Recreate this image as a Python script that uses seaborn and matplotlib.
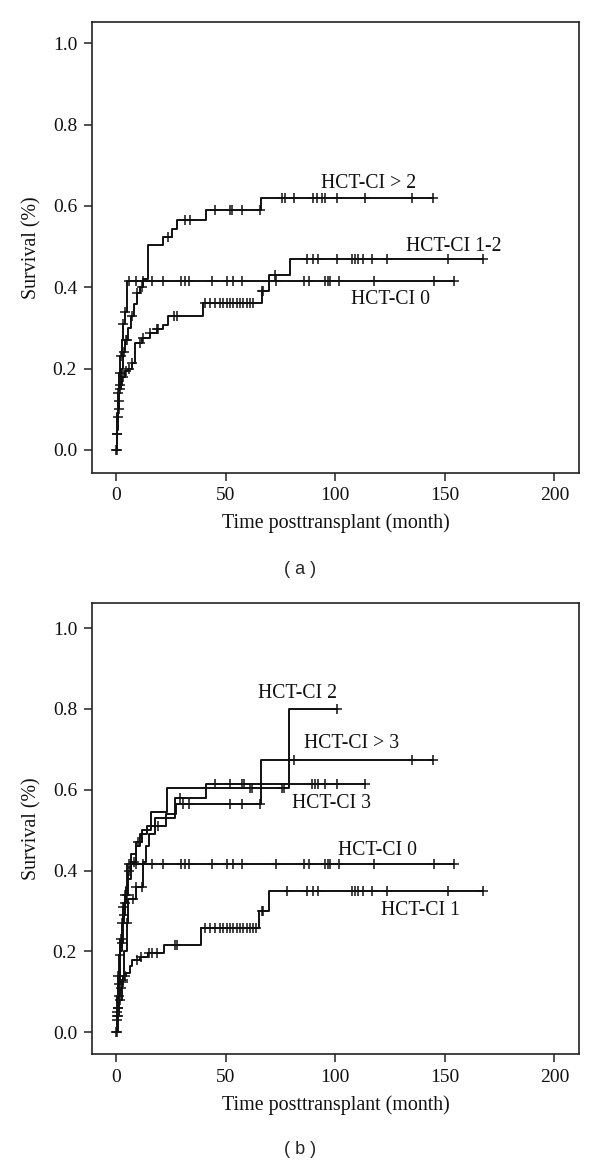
import numpy as np
import pandas as pd
import matplotlib
matplotlib.use("Agg")
import matplotlib.pyplot as plt
import seaborn as sns

# ---------------- data ----------------
# panel (a)
hct0_t = [0, 0.3, 0.6, 1.0, 1.5, 2.0, 2.5, 3.2, 4.0, 4.9]
hct0_s = [0.0, 0.04, 0.09, 0.14, 0.19, 0.23, 0.27, 0.31, 0.34, 0.416]
hct0_end = 154.2
hct0_cens = [0.2, 0.5, 1.0, 1.6, 2.4, 3.3, 4.0, 6.1, 9.1, 12.2, 16.3, 21.6, 29.7, 31.5,
             33.5, 44.0, 50.5, 53.5, 57.3, 72.9, 85.8, 88.2, 95.4, 96.6, 97.6, 101.9,
             117.7, 145.1, 154.2]

a12_t = [0, 0.3, 0.6, 1.0, 1.5, 2.6, 4.1, 5.6, 7.1, 8.7, 11.7, 15.5, 18.6, 21.6, 23.9,
         39.9, 66.5, 70.0, 79.4]
a12_s = [0.0, 0.04, 0.08, 0.12, 0.16, 0.18, 0.193, 0.20, 0.213, 0.262, 0.275, 0.287,
         0.297, 0.307, 0.33, 0.361, 0.392, 0.430, 0.470]
a12_end = 167.3
a12_cens = [0.3, 0.8, 1.3, 2.0, 3.0, 4.5, 6.0, 7.5, 11.0, 12.5, 15.5, 18.6, 19.3, 26.5,
            28.0, 40.6, 42.9, 45.2, 47.5, 49.0, 50.5, 52.0, 53.5, 55.1, 56.6, 58.1,
            59.6, 61.1, 62.7, 66.5, 67.2, 72.6, 87.0, 90.0, 92.3, 100.7, 107.5, 109.0,
            110.6, 112.9, 116.7, 123.5, 151.3, 167.3]

agt2_t = [0, 0.5, 1.0, 1.5, 2.2, 3.0, 4.0, 5.5, 6.7, 8.0, 9.4, 11.0, 12.5, 14.8, 21.6,
          25.4, 27.7, 41.1, 66.2]
agt2_s = [0.0, 0.05, 0.10, 0.15, 0.20, 0.24, 0.27, 0.30, 0.33, 0.36, 0.385, 0.40, 0.42,
          0.504, 0.523, 0.543, 0.566, 0.589, 0.620]
agt2_end = 144.5
agt2_cens = [0.4, 1.2, 2.0, 3.5, 4.5, 5.0, 7.5, 9.5, 12.0, 23.9, 31.5, 33.8, 45.2, 52.0,
             52.8, 57.3, 65.7, 75.6, 77.1, 81.4, 90.0, 91.6, 93.8, 95.4, 100.7, 113.6,
             134.9, 144.5]

# panel (b)
b1_t = [0, 0.3, 0.7, 1.2, 1.8, 2.5, 3.3, 4.6, 6.4, 7.1, 11.0, 14.7, 22.0, 39.0, 65.4, 70.0]
b1_s = [0.0, 0.03, 0.06, 0.09, 0.11, 0.125, 0.138, 0.146, 0.163, 0.179, 0.187, 0.196,
        0.216, 0.259, 0.299, 0.35]
b1_end = 167.3
b1_cens = [0.5, 1.0, 1.5, 2.2, 3.0, 4.0, 9.4, 11.3, 15.2, 16.3, 18.6, 26.9, 27.7, 40.6,
           42.9, 45.2, 47.5, 49.0, 50.5, 52.0, 53.5, 55.1, 56.6, 58.1, 59.6, 61.1, 62.7,
           63.8, 66.4, 67.2, 77.9, 87.0, 90.0, 92.3, 107.5, 109.0, 110.6, 112.9, 116.7,
           123.5, 151.3, 167.3]

b2_t = [0, 0.5, 1.0, 1.8, 2.6, 3.5, 4.5, 5.5, 7.0, 9.0, 12.0, 16.0, 23.2, 79.1]
b2_s = [0.0, 0.05, 0.12, 0.20, 0.27, 0.32, 0.36, 0.40, 0.44, 0.47, 0.50, 0.546, 0.604, 0.80]
b2_end = 100.7
b2_cens = [0.6, 1.5, 2.8, 4.0, 6.0, 10.0, 61.1, 61.9, 75.6, 76.7, 100.7]

b3_t = [0, 0.5, 1.2, 2.0, 3.0, 4.2, 5.5, 7.0, 9.0, 11.0, 14.0, 18.0, 26.9, 41.1]
b3_s = [0.0, 0.06, 0.14, 0.22, 0.29, 0.34, 0.38, 0.42, 0.46, 0.49, 0.51, 0.53, 0.579, 0.614]
b3_end = 113.6
b3_cens = [0.3, 1.0, 2.5, 3.5, 5.0, 8.0, 29.0, 45.2, 52.0, 57.3, 58.4, 89.3, 90.8, 92.3,
           95.4, 100.7, 113.6]

bgt3_t = [0, 0.7, 1.5, 2.5, 3.5, 4.8, 5.5, 9.0, 12.5, 13.5, 15.0, 18.0, 23.0, 27.4, 66.2]
bgt3_s = [0.0, 0.04, 0.08, 0.13, 0.20, 0.27, 0.33, 0.36, 0.42, 0.46, 0.49, 0.51, 0.54,
          0.565, 0.674]
bgt3_end = 144.5
bgt3_cens = [1.0, 2.0, 3.0, 5.0, 7.9, 9.1, 12.0, 19.0, 30.7, 33.5, 52.0, 57.3, 65.7,
             81.4, 134.9, 144.5]

# label text and positions (month, survival)
a_labels = [("HCT-CI > 2", 115.4, 0.656), ("HCT-CI 1-2", 154.0, 0.500), ("HCT-CI 0", 125.2, 0.371)]
b_labels = [("HCT-CI 2", 82.7, 0.837), ("HCT-CI > 3", 107.7, 0.715), ("HCT-CI 3", 98.5, 0.565),
            ("HCT-CI 0", 119.1, 0.449), ("HCT-CI 1", 138.9, 0.301)]

# ---------------- style ----------------
sns.set_style("ticks")
plt.rcParams["font.family"] = ["Liberation Serif", "DejaVu Serif"]
plt.rcParams["axes.linewidth"] = 1.2
plt.rcParams["xtick.major.size"] = 6
plt.rcParams["ytick.major.size"] = 6
plt.rcParams["xtick.major.pad"] = 4.5
plt.rcParams["ytick.major.pad"] = 4.5

W, H = 600, 1167


def step_frame(t, s, end):
    tt = list(t) + [end]
    ss = list(s) + [s[-1]]
    return pd.DataFrame({"t": tt, "s": ss})


def cens_frame(t, s, cens):
    idx = np.searchsorted(np.asarray(t), np.asarray(cens), side="right") - 1
    return pd.DataFrame({"t": cens, "s": np.asarray(s)[idx]})


def draw_panel(ax, curves, labels, ylim):
    for t, s, end, cens in curves:
        sns.lineplot(data=step_frame(t, s, end), x="t", y="s", ax=ax, estimator=None,
                     drawstyle="steps-post", color="#111111", linewidth=1.4, sort=False)
        sns.scatterplot(data=cens_frame(t, s, cens), x="t", y="s", ax=ax, marker="+",
                        color="#111111", s=45, linewidth=1.1, zorder=3)
    for txt, x, y in labels:
        ax.text(x, y, txt, ha="center", va="center", fontsize=14.2, color="#111111")
    ax.set_xlim(-11.1, 211.4)
    ax.set_ylim(*ylim)
    ax.set_xticks([0, 50, 100, 150, 200])
    ax.set_yticks([0.0, 0.2, 0.4, 0.6, 0.8, 1.0])
    ax.set_yticklabels(["0.0", "0.2", "0.4", "0.6", "0.8", "1.0"])
    ax.tick_params(labelsize=14, width=1.1, color="#222222", labelcolor="#111111")
    for sp in ax.spines.values():
        sp.set_visible(True)
        sp.set_color("#222222")
    ax.set_xlabel("Time posttransplant (month)", fontsize=14.4, color="#111111")
    ax.set_ylabel("Survival (%)", fontsize=14.4, color="#111111")
    ax.xaxis.set_label_coords(0.5, -41 / 451)
    ax.yaxis.set_label_coords(-59.7 / 487.6, 0.5)
    ax.yaxis.label.set_verticalalignment("center")


fig = plt.figure(figsize=(W / 100, H / 100), dpi=100)
ax_a = fig.add_axes([91.7 / W, 1 - 472.7 / H, 487.6 / W, 451 / H])
ax_b = fig.add_axes([91.7 / W, 1 - 1054 / H, 487.6 / W, 451 / H])

draw_panel(ax_a,
           [(hct0_t, hct0_s, hct0_end, hct0_cens),
            (a12_t, a12_s, a12_end, a12_cens),
            (agt2_t, agt2_s, agt2_end, agt2_cens)],
           a_labels, (-0.056, 1.053))
draw_panel(ax_b,
           [(hct0_t, hct0_s, hct0_end, hct0_cens),
            (b1_t, b1_s, b1_end, b1_cens),
            (b2_t, b2_s, b2_end, b2_cens),
            (b3_t, b3_s, b3_end, b3_cens),
            (bgt3_t, bgt3_s, bgt3_end, bgt3_cens)],
           b_labels, (-0.054, 1.062))

fig.text(0.5, 1 - 569 / H, "( a )", ha="center", va="center", fontsize=13,
         family=["Liberation Sans", "DejaVu Sans"])
fig.text(0.5, 1 - 1150 / H, "( b )", ha="center", va="center", fontsize=13,
         family=["Liberation Sans", "DejaVu Sans"])

fig.savefig("out.png", dpi=100)
